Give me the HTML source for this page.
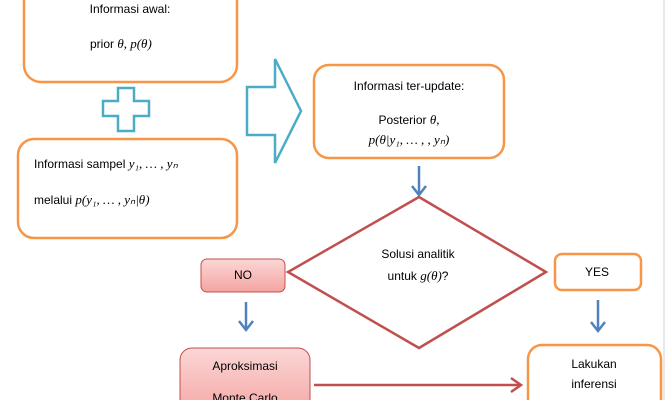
<!DOCTYPE html>
<html><head><meta charset="utf-8"><style>
body{margin:0;width:668px;height:400px;overflow:hidden;background:#fff;}
svg text{font-family:"Liberation Sans",sans-serif;font-size:12px;fill:#000;}
.m{font-family:"Liberation Serif",serif;font-style:italic;font-size:13px;}
</style></head><body>
<svg width="668" height="400" xmlns="http://www.w3.org/2000/svg">
<defs>
<linearGradient id="g" x1="0" y1="0" x2="0" y2="1">
<stop offset="0" stop-color="#fbd7d6"/><stop offset="1" stop-color="#f4a4a2"/></linearGradient>
</defs>
<line x1="664" y1="0" x2="664" y2="400" stroke="#d0d0d0" stroke-width="1"/>
<g fill="none" stroke="#f79646" stroke-width="2.5">
<rect x="24" y="-20" width="213" height="102" rx="17"/>
<rect x="18" y="139" width="219" height="99" rx="16"/>
<rect x="314" y="65" width="190" height="93" rx="15"/>
<rect x="555" y="254" width="86" height="36" rx="7"/>
<rect x="528" y="345" width="133" height="80" rx="14"/>
</g>
<g fill="#fff" stroke="#4bacc6" stroke-width="2.5">
<polygon points="118,88 134,88 134,101 149,101 149,116 134,116 134,131 118,131 118,116 103,116 103,101 118,101"/>
<polygon points="247,87 275,87 275,59 301,111 275,163 275,135 247,135"/>
</g>
<polygon points="419,197 546,272 419,348 288,272" fill="#fff" stroke="#c0504d" stroke-width="2.5"/>
<rect x="201" y="259" width="84" height="33" rx="6" fill="url(#g)" stroke="#c0504d" stroke-width="1"/>
<rect x="180" y="348" width="130" height="70" rx="12" fill="url(#g)" stroke="#c0504d" stroke-width="1"/>
<g stroke="#4f81bd" stroke-width="2.5" fill="none">
<line x1="419" y1="166" x2="419" y2="195"/><polyline points="412,186 419,195 426,186"/>
<line x1="246" y1="302" x2="246" y2="330"/><polyline points="239,321 246,330 253,321"/>
<line x1="598" y1="300" x2="598" y2="331"/><polyline points="591,322 598,331 605,322"/>
</g>
<g stroke="#c0504d" stroke-width="2.5" fill="none">
<line x1="314" y1="385" x2="521" y2="385"/><polyline points="511,378 521,385 511,392"/>
</g>
<text x="130" y="13" text-anchor="middle">Informasi awal:</text>
<text x="90" y="48">prior <tspan class="m">θ, p(θ)</tspan></text>
<text x="34" y="168">Informasi sampel <tspan class="m">y₁, … , yₙ</tspan></text>
<text x="34" y="204">melalui <tspan class="m">p(y₁, … , yₙ|θ)</tspan></text>
<text x="409" y="90" text-anchor="middle">Informasi ter-update:</text>
<text x="409" y="124" text-anchor="middle">Posterior <tspan class="m">θ,</tspan></text>
<text x="409" y="144" text-anchor="middle" class="m">p(θ|y₁, … , , yₙ)</text>
<text x="418" y="258" text-anchor="middle">Solusi analitik</text>
<text x="418" y="280" text-anchor="middle">untuk <tspan class="m">g(θ)</tspan>?</text>
<text x="243" y="279" text-anchor="middle">NO</text>
<text x="597" y="276" text-anchor="middle">YES</text>
<text x="245" y="370" text-anchor="middle">Aproksimasi</text>
<text x="245" y="402" text-anchor="middle">Monte Carlo</text>
<text x="594" y="368" text-anchor="middle">Lakukan</text>
<text x="594" y="388" text-anchor="middle">inferensi</text>
</svg>
</body></html>
